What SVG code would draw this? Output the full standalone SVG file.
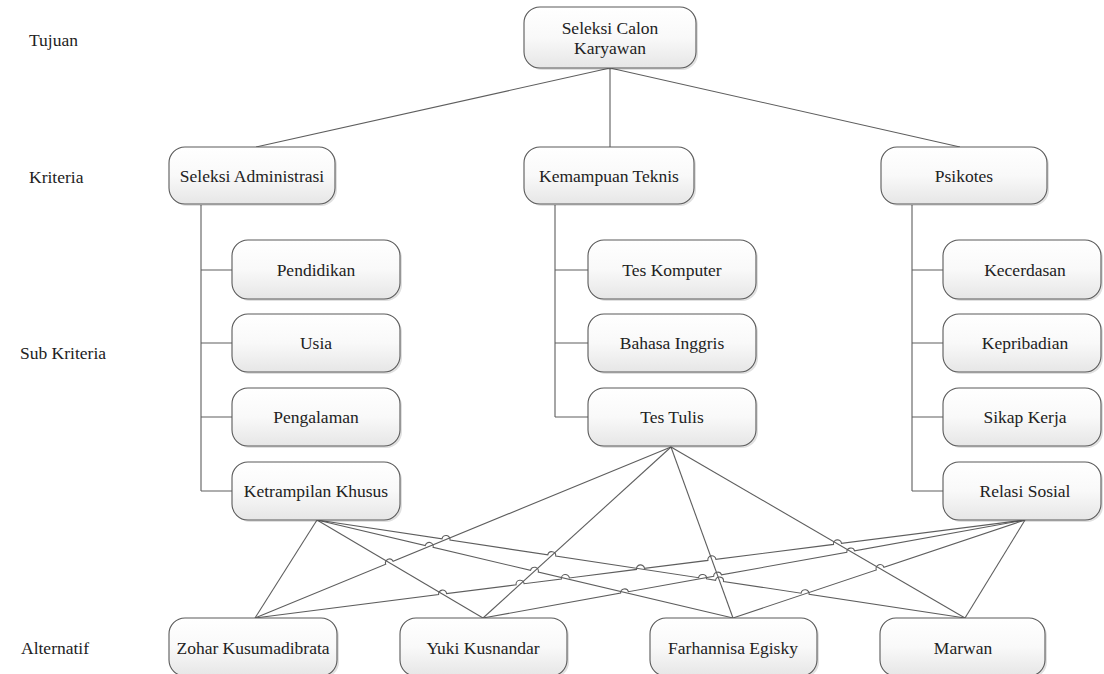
<svg xmlns="http://www.w3.org/2000/svg" width="1104" height="674" viewBox="0 0 1104 674">
<defs>
<linearGradient id="g" x1="0" y1="0" x2="0" y2="1">
<stop offset="0" stop-color="#ffffff"/>
<stop offset="0.5" stop-color="#f9f9f9"/>
<stop offset="1" stop-color="#e6e6e6"/>
</linearGradient>
</defs>
<style>
.box{fill:url(#g);stroke:#5a5a5a;stroke-width:1.1}
.sh{fill:#000;opacity:0.12}
text{font-family:'Times New Roman','Liberation Serif',Tinos,'DejaVu Serif',serif;font-size:17.5px;fill:#222}
.t{text-anchor:middle}
.c{fill:none;stroke:#5e5e5e;stroke-width:1.1}
</style>
<rect width="1104" height="674" fill="#fff"/>
<g id="labels">
<text x="29" y="46">Tujuan</text>
<text x="29" y="183">Kriteria</text>
<text x="20" y="359">Sub Kriteria</text>
<text x="21" y="654">Alternatif</text>
</g>
<g id="connectors">
<path class="c" d="M610 68 L256 147 M610 68 V147 M610 68 L960 147"/>
<path class="c" d="M201 205 V491 M201 270 H232 M201 343 H232 M201 417 H232 M201 491 H232"/>
<path class="c" d="M555 205 V417 M555 270 H588 M555 343 H588 M555 417 H588"/>
<path class="c" d="M912 205 V491 M912 270 H943 M912 343 H943 M912 417 H943 M912 491 H943"/>
<path class="c" d="M317 520 L255 618"/>
<path class="c" d="M317 520 L483 618"/>
<path class="c" d="M317 520 L425.3 545.5 A4 4 0 0 1 433.1 547.3 L530.5 570.3 A4 4 0 0 1 538.3 572.1 L733 618"/>
<path class="c" d="M317 520 L442.0 538.9 A4 4 0 0 1 450.0 540.1 L547.8 554.9 A4 4 0 0 1 555.7 556.1 L698.6 577.7 A4 4 0 0 1 706.5 578.9 L715.6 580.3 A4 4 0 0 1 723.5 581.5 L801.1 593.2 A4 4 0 0 1 809.1 594.4 L965 618"/>
<path class="c" d="M255 618 L385.7 564.3 A4 4 0 0 1 393.1 561.3 L671 447"/>
<path class="c" d="M671 447 L483 618"/>
<path class="c" d="M671 447 L733 618"/>
<path class="c" d="M671 447 L965 618"/>
<path class="c" d="M255 618 L438.6 594.6 A4 4 0 0 1 446.6 593.6 L516.1 584.8 A4 4 0 0 1 524.1 583.7 L561.4 579.0 A4 4 0 0 1 569.4 578.0 L636.5 569.4 A4 4 0 0 1 644.5 568.4 L707.9 560.4 A4 4 0 0 1 715.9 559.3 L833.5 544.4 A4 4 0 0 1 841.5 543.4 L1025 520"/>
<path class="c" d="M483 618 L620.6 593.1 A4 4 0 0 1 628.4 591.7 L713.7 576.3 A4 4 0 0 1 721.5 574.9 L846.8 552.2 A4 4 0 0 1 854.6 550.8 L1025 520"/>
<path class="c" d="M733 618 L876.3 569.9 A4 4 0 0 1 883.9 567.3 L1025 520"/>
<path class="c" d="M1025 520 L965 618"/>
</g>
<g id="n-tujuan"><rect class="sh" x="526" y="9" width="172" height="61" rx="16"/><rect class="box" x="524" y="7" width="172" height="61" rx="16"/><text class="t" x="610" y="34">Seleksi Calon</text><text class="t" x="610" y="54">Karyawan</text></g>
<g id="n-adm"><rect class="sh" x="171" y="149" width="166" height="57" rx="16"/><rect class="box" x="169" y="147" width="166" height="57" rx="16"/><text class="t" x="252" y="182">Seleksi Administrasi</text></g>
<g id="n-tek"><rect class="sh" x="526" y="149" width="170" height="57" rx="16"/><rect class="box" x="524" y="147" width="170" height="57" rx="16"/><text class="t" x="609" y="182">Kemampuan Teknis</text></g>
<g id="n-psi"><rect class="sh" x="883" y="149" width="166" height="57" rx="16"/><rect class="box" x="881" y="147" width="166" height="57" rx="16"/><text class="t" x="964" y="182">Psikotes</text></g>
<g id="n-pend"><rect class="sh" x="234" y="242" width="168" height="59" rx="16"/><rect class="box" x="232" y="240" width="168" height="59" rx="16"/><text class="t" x="316" y="276">Pendidikan</text></g>
<g id="n-usia"><rect class="sh" x="234" y="316" width="168" height="58" rx="16"/><rect class="box" x="232" y="314" width="168" height="58" rx="16"/><text class="t" x="316" y="349">Usia</text></g>
<g id="n-peng"><rect class="sh" x="234" y="390" width="168" height="58" rx="16"/><rect class="box" x="232" y="388" width="168" height="58" rx="16"/><text class="t" x="316" y="423">Pengalaman</text></g>
<g id="n-ket"><rect class="sh" x="234" y="464" width="168" height="58" rx="16"/><rect class="box" x="232" y="462" width="168" height="58" rx="16"/><text class="t" x="316" y="497">Ketrampilan Khusus</text></g>
<g id="n-komp"><rect class="sh" x="590" y="242" width="168" height="59" rx="16"/><rect class="box" x="588" y="240" width="168" height="59" rx="16"/><text class="t" x="672" y="276">Tes Komputer</text></g>
<g id="n-bing"><rect class="sh" x="590" y="316" width="168" height="58" rx="16"/><rect class="box" x="588" y="314" width="168" height="58" rx="16"/><text class="t" x="672" y="349">Bahasa Inggris</text></g>
<g id="n-tulis"><rect class="sh" x="590" y="390" width="168" height="58" rx="16"/><rect class="box" x="588" y="388" width="168" height="58" rx="16"/><text class="t" x="672" y="423">Tes Tulis</text></g>
<g id="n-cerd"><rect class="sh" x="945" y="242" width="158" height="59" rx="16"/><rect class="box" x="943" y="240" width="158" height="59" rx="16"/><text class="t" x="1025" y="276">Kecerdasan</text></g>
<g id="n-prib"><rect class="sh" x="945" y="316" width="158" height="58" rx="16"/><rect class="box" x="943" y="314" width="158" height="58" rx="16"/><text class="t" x="1025" y="349">Kepribadian</text></g>
<g id="n-sikap"><rect class="sh" x="945" y="390" width="158" height="58" rx="16"/><rect class="box" x="943" y="388" width="158" height="58" rx="16"/><text class="t" x="1025" y="423">Sikap Kerja</text></g>
<g id="n-relasi"><rect class="sh" x="945" y="464" width="158" height="58" rx="16"/><rect class="box" x="943" y="462" width="158" height="58" rx="16"/><text class="t" x="1025" y="497">Relasi Sosial</text></g>
<g id="n-zohar"><rect class="sh" x="171" y="620" width="168" height="58" rx="16"/><rect class="box" x="169" y="618" width="168" height="58" rx="16"/><text class="t" x="253" y="654">Zohar Kusumadibrata</text></g>
<g id="n-yuki"><rect class="sh" x="402" y="620" width="167" height="58" rx="16"/><rect class="box" x="400" y="618" width="167" height="58" rx="16"/><text class="t" x="483" y="654">Yuki Kusnandar</text></g>
<g id="n-farh"><rect class="sh" x="652" y="620" width="167" height="58" rx="16"/><rect class="box" x="650" y="618" width="167" height="58" rx="16"/><text class="t" x="733" y="654">Farhannisa Egisky</text></g>
<g id="n-marwan"><rect class="sh" x="882" y="620" width="165" height="58" rx="16"/><rect class="box" x="880" y="618" width="165" height="58" rx="16"/><text class="t" x="963" y="654">Marwan</text></g>
</svg>
